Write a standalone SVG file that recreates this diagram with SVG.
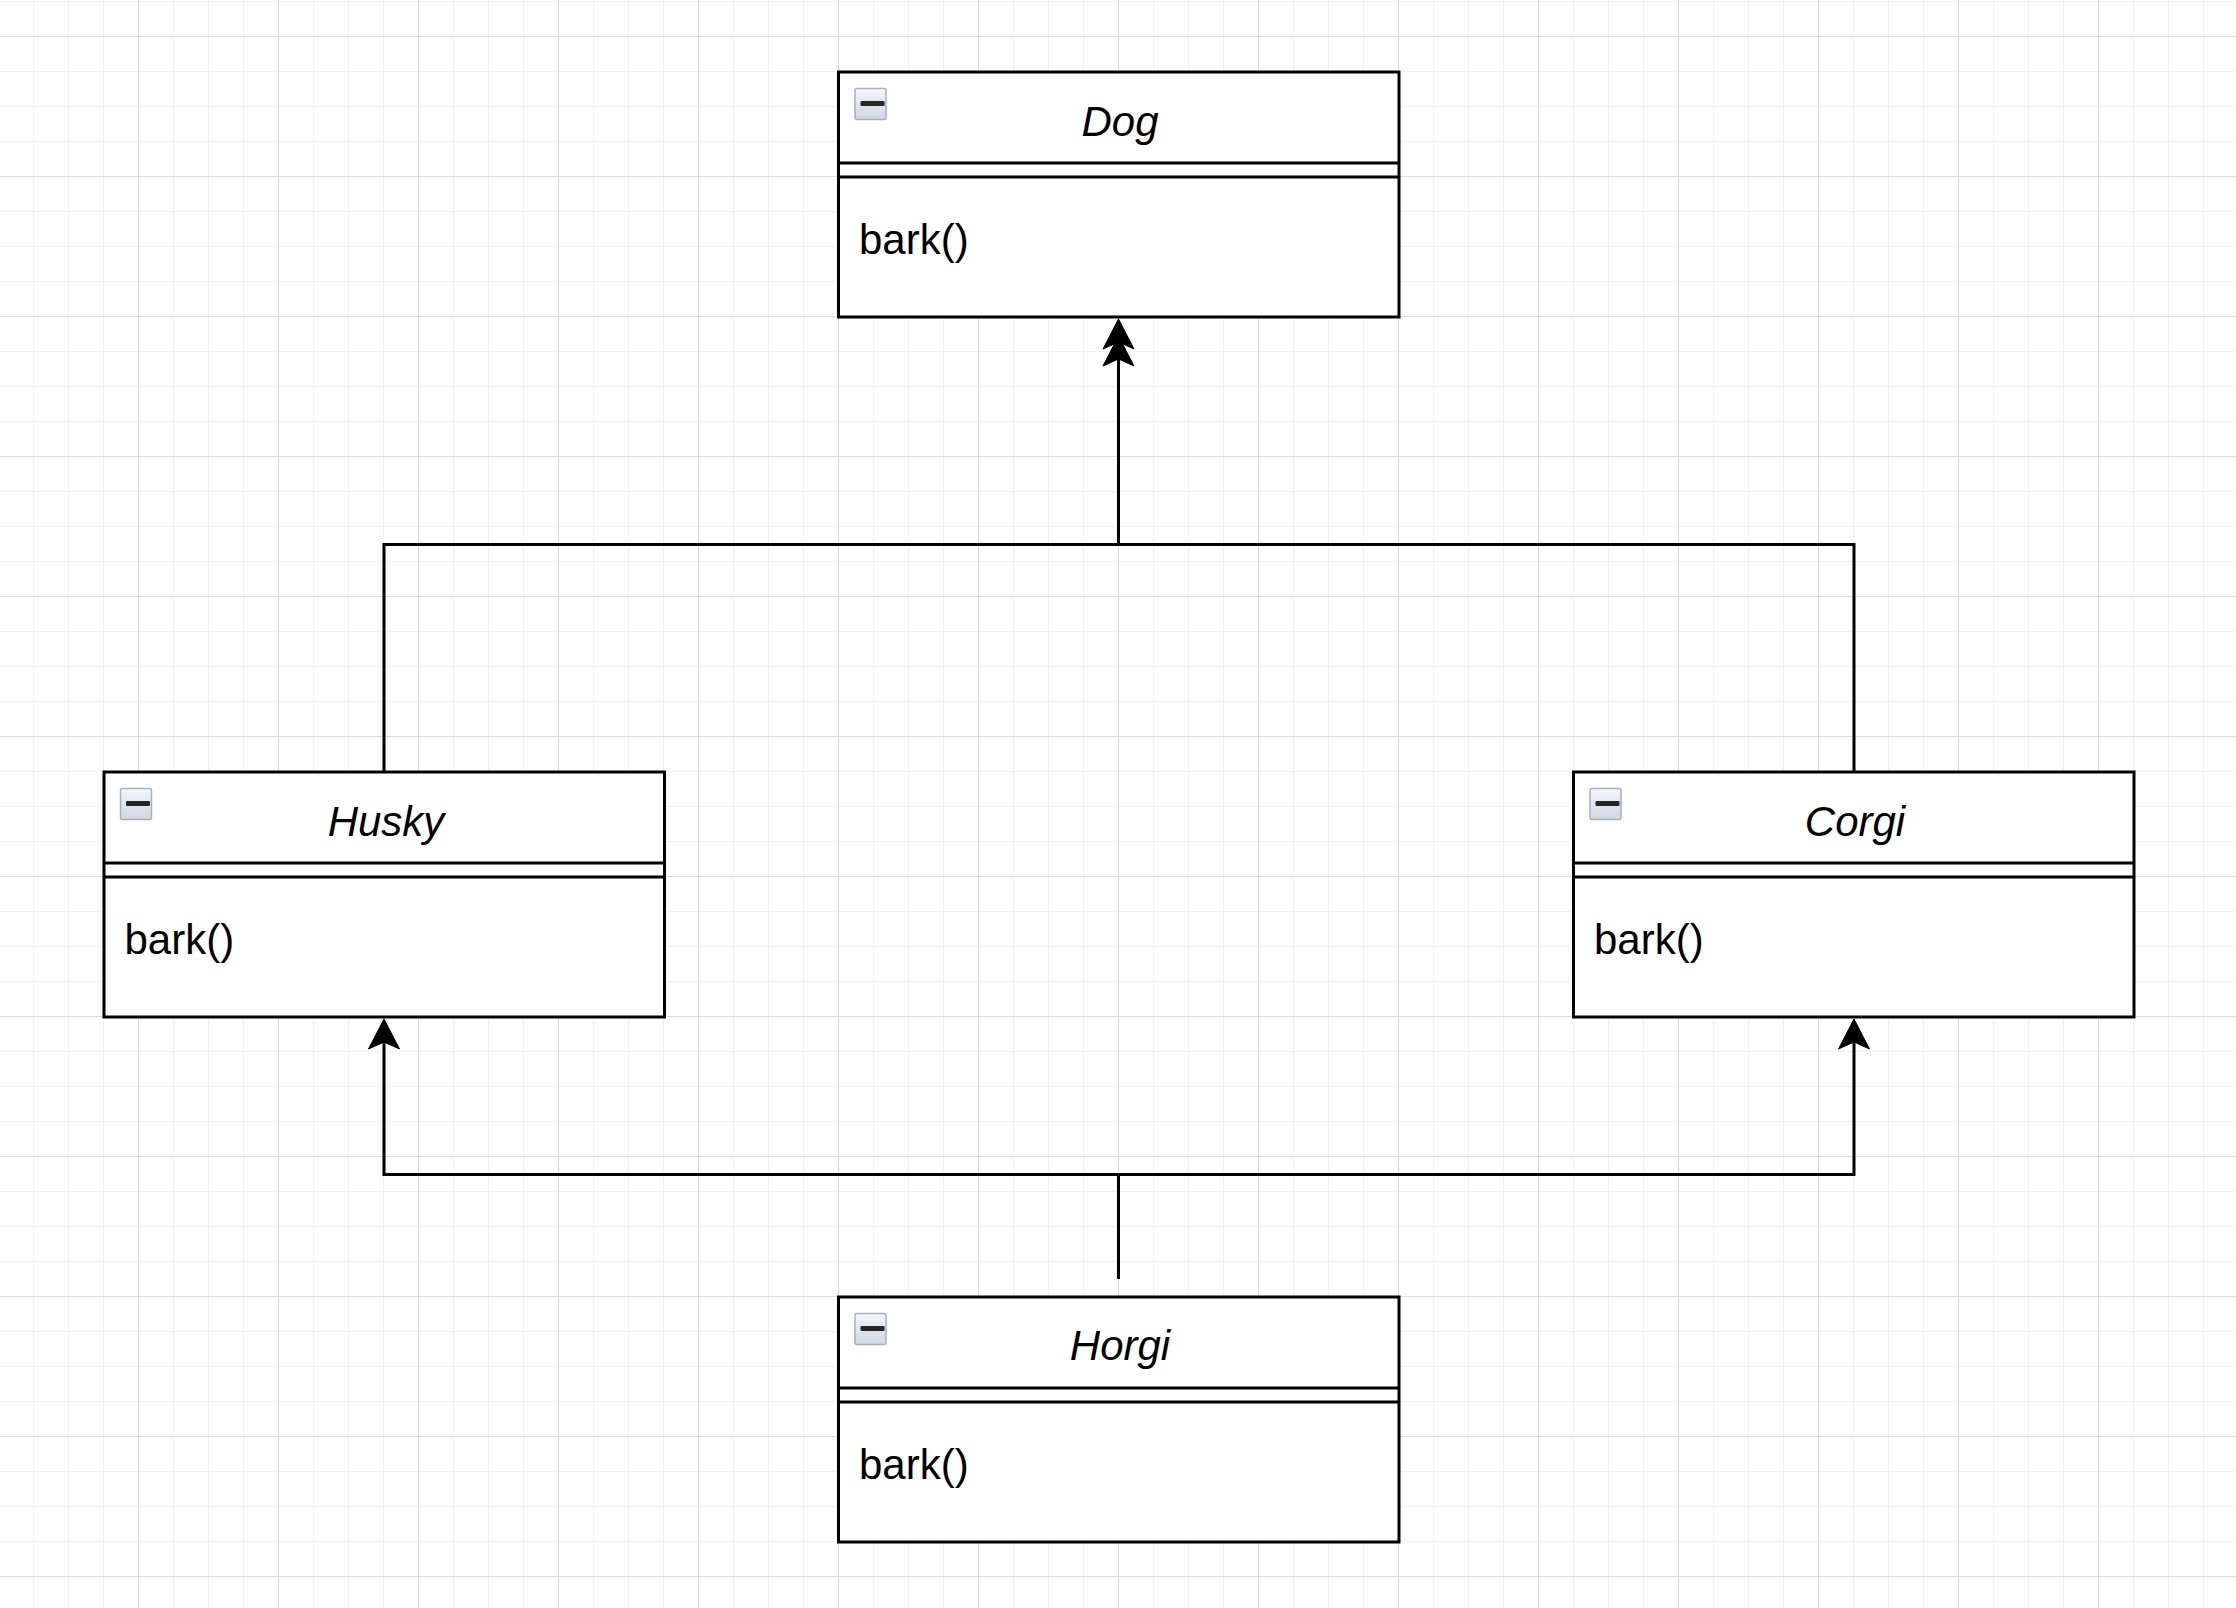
<svg xmlns="http://www.w3.org/2000/svg" xmlns:xlink="http://www.w3.org/1999/xlink" width="2236" height="1608" viewBox="0 0 2236 1608">
  <style>
    .box { fill: #ffffff; stroke: #000000; stroke-width: 3; }
    .sep { stroke: #000000; stroke-width: 3; fill: none; }
    .title { font-family: "Liberation Sans", Arial, Helvetica, sans-serif; font-size: 42px; font-style: italic; fill: #000000; text-anchor: middle; }
    .op { font-family: "Liberation Sans", Arial, Helvetica, sans-serif; font-size: 42px; fill: #000000; }
    .edge { stroke: #000000; stroke-width: 3; fill: none; }
    .head { fill: #000000; stroke: #000000; stroke-width: 1; stroke-linejoin: miter; }
    .icon { fill: url(#iconGrad); stroke: #a3b1c2; stroke-width: 1.5; }
    .bar { fill: #262626; }
  </style>
  <defs>
    <pattern id="grid" patternUnits="userSpaceOnUse" x="138" y="36" width="140" height="140">
      <rect x="35" y="0" width="1" height="140" fill="#f1f1f1"/>
      <rect x="70" y="0" width="1" height="140" fill="#f1f1f1"/>
      <rect x="105" y="0" width="1" height="140" fill="#f1f1f1"/>
      <rect x="0" y="35" width="140" height="1" fill="#f1f1f1"/>
      <rect x="0" y="70" width="140" height="1" fill="#f1f1f1"/>
      <rect x="0" y="105" width="140" height="1" fill="#f1f1f1"/>
      <rect x="0" y="0" width="1" height="140" fill="#dadada"/>
      <rect x="0" y="0" width="140" height="1" fill="#dadada"/>
    </pattern>
    <linearGradient id="iconGrad" x1="0" y1="0" x2="0" y2="1">
      <stop offset="0" stop-color="#f4f6f9"/>
      <stop offset="1" stop-color="#cfd7e0"/>
    </linearGradient>
    <path id="ah" d="M0,0 L15.5,30 L0,23 L-15.5,30 Z"/>
    <g id="collapse">
      <rect class="icon" x="0.5" y="0.5" width="31" height="31" rx="2"/>
      <rect class="bar" x="6" y="13" width="24" height="5" rx="1"/>
    </g>
  </defs>

  <rect x="0" y="0" width="2236" height="1608" fill="#ffffff"/>
  <rect x="0" y="0" width="2236" height="1608" fill="url(#grid)"/>

  <g id="connectors">
    <!-- Husky / Corgi to Dog -->
    <polyline class="edge" points="384,772 384,544.5 1118.5,544.5 1118.5,342"/>
    <polyline class="edge" points="1854,772 1854,544.5 1118.5,544.5"/>
    <use href="#ah" xlink:href="#ah" class="head" transform="translate(1118.5,336)"/>
    <use href="#ah" xlink:href="#ah" class="head" transform="translate(1118.5,319)"/>
    <!-- Horgi to Husky / Corgi -->
    <polyline class="edge" points="1118.5,1279 1118.5,1174.5"/>
    <polyline class="edge" points="1118.5,1174.5 384,1174.5 384,1042"/>
    <polyline class="edge" points="1118.5,1174.5 1854,1174.5 1854,1042"/>
    <use href="#ah" xlink:href="#ah" class="head" transform="translate(384,1019)"/>
    <use href="#ah" xlink:href="#ah" class="head" transform="translate(1854,1019)"/>
  </g>

  <g id="node-dog">
    <rect class="box" x="838.5" y="72" width="560.5" height="245"/>
    <line class="sep" x1="838.5" y1="163" x2="1399" y2="163"/>
    <line class="sep" x1="838.5" y1="177" x2="1399" y2="177"/>
    <use href="#collapse" xlink:href="#collapse" x="854.5" y="88"/>
    <text class="title" x="1120" y="136">Dog</text>
    <text class="op" x="859" y="254">bark()</text>
  </g>

  <g id="node-husky">
    <rect class="box" x="104" y="772" width="560.5" height="245"/>
    <line class="sep" x1="104" y1="863" x2="664.5" y2="863"/>
    <line class="sep" x1="104" y1="877" x2="664.5" y2="877"/>
    <use href="#collapse" xlink:href="#collapse" x="120" y="788"/>
    <text class="title" x="386" y="836">Husky</text>
    <text class="op" x="124.5" y="954">bark()</text>
  </g>

  <g id="node-corgi">
    <rect class="box" x="1573.5" y="772" width="560.5" height="245"/>
    <line class="sep" x1="1573.5" y1="863" x2="2134" y2="863"/>
    <line class="sep" x1="1573.5" y1="877" x2="2134" y2="877"/>
    <use href="#collapse" xlink:href="#collapse" x="1589.5" y="788"/>
    <text class="title" x="1855" y="836">Corgi</text>
    <text class="op" x="1594" y="954">bark()</text>
  </g>

  <g id="node-horgi">
    <rect class="box" x="838.5" y="1297" width="560.5" height="245"/>
    <line class="sep" x1="838.5" y1="1388" x2="1399" y2="1388"/>
    <line class="sep" x1="838.5" y1="1402" x2="1399" y2="1402"/>
    <use href="#collapse" xlink:href="#collapse" x="854.5" y="1313"/>
    <text class="title" x="1120" y="1360">Horgi</text>
    <text class="op" x="859" y="1479">bark()</text>
  </g>
</svg>
